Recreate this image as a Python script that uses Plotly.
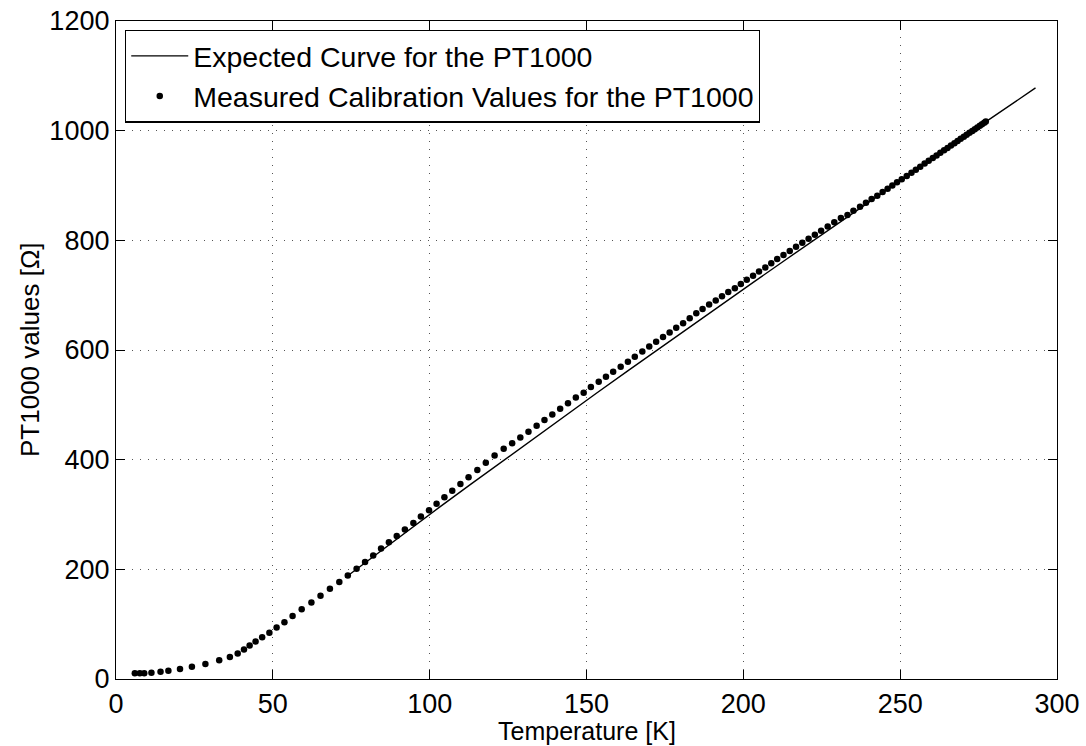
import plotly.graph_objects as go

# Expected PT1000 resistance (IEC 60751 table values, -200 °C .. +20 °C)
expected_T = [73.15, 83.15, 93.15, 103.15, 113.15, 123.15, 133.15, 143.15, 153.15,
              163.15, 173.15, 183.15, 193.15, 203.15, 213.15, 223.15, 233.15,
              243.15, 253.15, 263.15, 273.15, 283.15, 293.15]
expected_R = [185.2, 228.3, 271.0, 313.4, 355.4, 397.2, 438.8, 480.0, 521.1,
              561.9, 602.6, 643.0, 683.3, 723.3, 763.3, 803.1, 842.7,
              882.2, 921.6, 960.9, 1000.0, 1039.0, 1077.9]

# Measured calibration points
measured_T = [6.0, 7.6, 9.0, 11.3, 14.2, 16.7, 20.4, 24.2, 28.5, 32.9, 36.3, 38.8,
              40.8, 42.6, 44.5, 46.6, 48.9, 51.2, 53.7, 56.3, 59.2, 62.3, 65.2,
              68.2, 71.2, 73.9, 76.7, 79.4, 82.0, 84.5, 87.0, 89.5, 92.1, 94.8,
              97.2, 99.8, 102.2, 104.7, 107.2, 109.8, 112.4, 115.2, 117.9, 120.7,
              123.6, 126.3, 128.9, 131.5, 134.1, 136.6, 139.1, 141.6, 144.1, 146.6,
              149.1, 151.4, 153.9, 156.2, 158.5, 160.9, 163.2, 165.4, 167.8, 170.0,
              172.2, 174.4, 176.5, 178.6, 180.8, 182.9, 185.0, 187.0, 189.1, 191.2,
              193.2, 195.2, 197.3, 199.2, 201.1, 203.1, 205.0, 207.0, 208.9, 210.8,
              212.8, 214.8, 216.8, 218.8, 220.8, 222.8, 224.8, 226.9, 229.0, 231.1,
              233.2, 235.1, 237.2, 239.1, 240.9, 242.7, 244.4, 246.0, 247.5, 249.0,
              250.5, 252.1, 253.6, 255.0, 256.4, 257.8, 259.1, 260.4, 261.6, 262.8,
              264.0, 265.1, 266.2, 267.3, 268.3, 269.3, 270.3, 271.2, 272.1, 273.0,
              273.8, 274.6, 275.4, 276.1, 276.8, 277.3]
measured_R = [10.4, 10.4, 10.5, 11.6, 13.4, 15.2, 18.3, 22.5, 27.4, 34.1, 40.2, 46.3,
              53.6, 60.9, 68.2, 76.1, 84.5, 93.7, 103.5, 115.0, 127.2, 139.3, 152.0,
              164.5, 176.8, 188.8, 201.0, 213.5, 225.4, 237.9, 249.5, 261.0, 272.5, 284.7,
              296.2, 307.9, 319.4, 331.6, 343.1, 355.5, 368.1, 381.0, 394.2, 407.5,
              419.8, 430.1, 440.4, 450.8, 461.8, 472.2, 482.5, 492.8, 503.0, 513.4,
              522.0, 532.4, 542.0, 551.2, 560.3, 569.4, 578.6, 587.7, 597.4, 606.5,
              615.0, 623.5, 632.0, 640.5, 649.0, 658.0, 667.0, 675.0, 683.0, 690.5,
              698.0, 705.7, 712.8, 720.3, 728.0, 735.5, 743.0, 750.6, 758.4, 766.0,
              773.4, 780.7, 788.1, 795.5, 802.8, 810.2, 817.6, 825.3, 833.0, 840.7,
              846.2, 854.0, 861.4, 868.7, 875.5, 881.5, 888.2, 894.3, 899.8, 905.8,
              911.3, 917.5, 923.4, 928.9, 934.4, 939.9, 945.0, 950.1, 954.8, 959.5,
              964.3, 968.6, 972.9, 977.2, 981.2, 985.1, 989.0, 992.6, 996.1, 999.6,
              1002.8, 1005.9, 1009.1, 1011.8, 1014.5, 1016.5]

x_ticks = [0, 50, 100, 150, 200, 250, 300]
y_ticks = [0, 200, 400, 600, 800, 1000, 1200]

FONT = "Liberation Sans, Arial, Helvetica, sans-serif"
TXT = dict(family=FONT, size=27, color="black")

fig = go.Figure()
fig.add_trace(go.Scatter(
    x=expected_T, y=expected_R, mode="lines",
    line=dict(color="black", width=1.4),
    name="Expected Curve for the PT1000",
))
fig.add_trace(go.Scatter(
    x=measured_T, y=measured_R, mode="markers",
    marker=dict(color="black", size=6.5, line=dict(width=0)),
    name="Measured Calibration Values for the PT1000",
))

axis_common = dict(
    showline=True, linecolor="black", linewidth=1.3, mirror="ticks",
    ticks="inside", ticklen=9, tickwidth=1.3, tickcolor="black",
    showgrid=True, gridcolor="#555555", gridwidth=1, griddash="1px,7px",
    zeroline=False, automargin=False,
    tickfont=TXT,
)

fig.update_xaxes(range=[0, 300], tickvals=x_ticks,
                 ticktext=[str(v) for v in x_ticks], **axis_common)
fig.update_yaxes(range=[0, 1200], tickvals=y_ticks,
                 ticktext=[str(v) for v in y_ticks], **axis_common)

# Axis titles
fig.add_annotation(text="Temperature [K]", xref="paper", yref="paper",
                   x=0.5, y=0, xanchor="center", yanchor="bottom",
                   yshift=-67, showarrow=False, borderpad=0,
                   font=dict(family=FONT, size=25, color="black"))
fig.add_annotation(text="PT1000 values [Ω]", xref="paper", yref="paper",
                   x=0, y=0.5, xanchor="center", yanchor="middle",
                   xshift=-86, textangle=-90, showarrow=False, borderpad=0,
                   font=dict(family=FONT, size=26, color="black"))

fig.update_layout(
    width=1086, height=746,
    margin=dict(l=116, r=29, t=21, b=67, pad=0),
    paper_bgcolor="white", plot_bgcolor="white",
    showlegend=True,
    legend=dict(
        x=0.0095, y=0.987, xanchor="left", yanchor="top",
        bgcolor="white", bordercolor="black", borderwidth=1.3,
        font=dict(family=FONT, size=28.5, color="black"),
        tracegroupgap=0, itemwidth=57,
    ),
)

fig.write_html("out.html")
